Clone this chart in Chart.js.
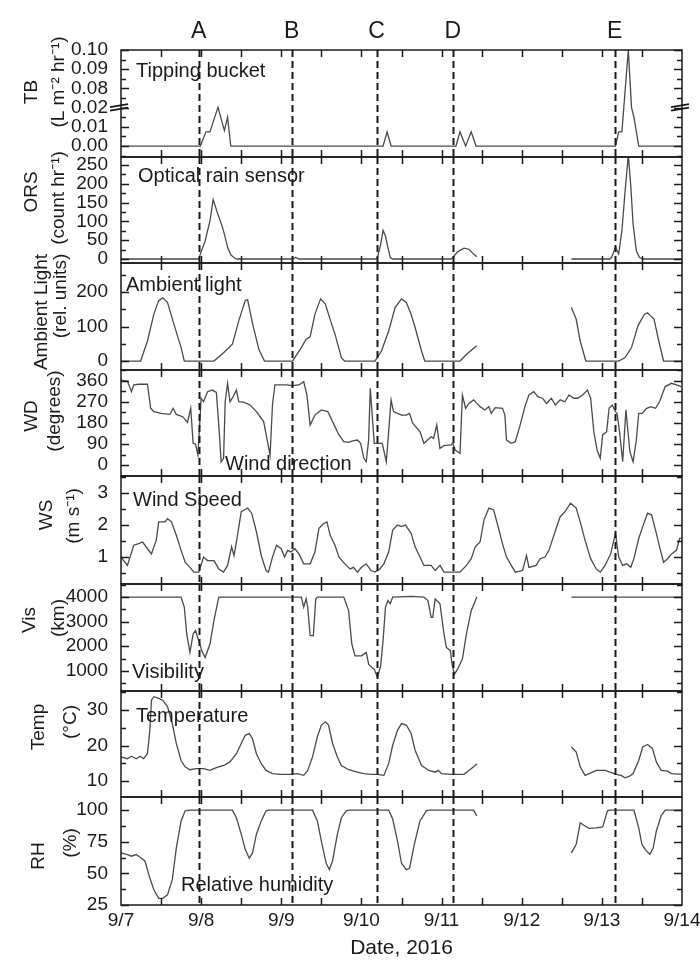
<!DOCTYPE html>
<html>
<head>
<meta charset="utf-8">
<script src="https://cdn.jsdelivr.net/npm/chart.js@4"></script>
<style>
  html, body { margin: 0; padding: 0; background: #fff; }
  #wrap { position: relative; width: 700px; height: 965px; }
  #wrap canvas { position: absolute; left: 0; top: 0; }
</style>
</head>
<body>
<div id="wrap"></div>
<script>
// x values are days after 9/7 00:00
const dayLabels = ['9/7', '9/8', '9/9', '9/10', '9/11', '9/12', '9/13', '9/14'];
const eventNames = ['A', 'B', 'C', 'D', 'E'];
const eventDays = [0.97, 2.13, 3.19, 4.14, 6.16];

// TB (L m-2 hr-1), axis broken between 0.02 and 0.08
const tbData = [[0,0],[0.99,0],[1.06,0.0074],[1.11,0.0074],[1.21,0.0215],[1.29,0.008],[1.33,0.015],[1.37,0],
  [3.27,0],[3.32,0.0074],[3.37,0],[4.18,0],[4.23,0.0074],[4.30,0],[4.37,0.0074],[4.43,0],
  [6.17,0],[6.21,0.0074],[6.25,0.0074],[6.33,0.10],[6.37,0.021],[6.40,0.015],[6.46,0],[7,0]];

const orsData = [[0,0],[0.97,0],[0.99,13],[1.05,48],[1.11,101],[1.15,158],[1.21,118],[1.26,88],[1.29,66],[1.33,31],
  [1.37,11],[1.42,2],[1.45,0],[2.14,0],[2.18,4],[2.22,0],[3.18,0],[3.20,4],[3.24,39],[3.27,76],[3.30,61],[3.33,31],
  [3.36,4],[3.39,0],[4.12,0],[4.14,4],[4.20,19],[4.28,29],[4.34,26],[4.40,13],[4.44,6],[5.0,null],
  [5.62,0],[6.10,0],[6.12,4],[6.17,31],[6.21,13],[6.25,75],[6.29,180],[6.33,276],[6.36,197],[6.39,92],
  [6.43,22],[6.47,4],[6.51,0],[7,0]];

const lightData = [[0,0],[0.245,0],[0.33,58],[0.41,136],[0.47,175],[0.52,183],[0.58,170],[0.66,107],[0.75,39],[0.79,0],
  [1.16,0],[1.28,24],[1.39,49],[1.47,117],[1.55,175],[1.58,178],[1.64,110],[1.72,34],[1.79,0],
  [2.14,0],[2.25,39],[2.31,63],[2.36,70],[2.42,136],[2.49,180],[2.55,165],[2.61,120],[2.67,78],[2.75,10],[2.79,0],
  [3.17,0],[3.25,29],[3.34,87],[3.42,155],[3.50,180],[3.56,170],[3.62,135],[3.67,97],[3.75,29],[3.79,0],
  [4.23,0],[4.31,19],[4.40,37],[4.44,44],[5.0,null],
  [5.62,155],[5.68,121],[5.73,58],[5.80,0],[6.21,0],[6.29,10],[6.37,39],[6.45,102],[6.53,135],[6.57,140],
  [6.62,128],[6.65,122],[6.71,58],[6.77,0],[7,0]];

const wdData = [[0,364],[0.08,360],[0.13,314],[0.16,343],[0.22,346],[0.33,346],[0.37,243],[0.41,229],[0.50,221],
  [0.61,217],[0.65,243],[0.69,217],[0.77,207],[0.83,183],[0.87,243],[0.90,93],[0.93,89],[0.96,43],[1.0,286],
  [1.03,271],[1.08,314],[1.14,321],[1.19,311],[1.22,171],[1.25,14],[1.28,29],[1.30,271],[1.33,350],[1.36,271],
  [1.40,293],[1.44,321],[1.47,271],[1.53,269],[1.61,257],[1.69,229],[1.78,186],[1.82,114],[1.86,43],[1.89,257],
  [1.92,343],[2.06,343],[2.14,340],[2.22,343],[2.28,357],[2.32,300],[2.36,171],[2.42,214],[2.50,236],[2.58,229],
  [2.64,186],[2.72,129],[2.78,100],[2.84,97],[2.89,103],[2.95,107],[2.99,93],[3.03,29],[3.06,14],[3.09,107],
  [3.11,329],[3.16,93],[3.20,93],[3.26,93],[3.31,14],[3.34,143],[3.37,279],[3.40,229],[3.45,221],[3.50,214],
  [3.56,214],[3.60,221],[3.64,179],[3.73,143],[3.78,93],[3.87,121],[3.90,114],[3.94,171],[3.98,71],[4.03,83],
  [4.12,86],[4.14,93],[4.17,64],[4.23,50],[4.26,300],[4.30,243],[4.34,264],[4.40,279],[4.44,264],[4.48,250],
  [4.54,236],[4.59,250],[4.62,221],[4.67,246],[4.76,243],[4.79,214],[4.81,107],[4.87,93],[4.92,100],[4.98,171],
  [5.04,250],[5.09,300],[5.15,314],[5.20,293],[5.26,286],[5.31,264],[5.37,286],[5.42,257],[5.48,279],[5.54,271],
  [5.59,300],[5.65,286],[5.70,286],[5.76,300],[5.82,321],[5.86,286],[5.90,143],[5.94,64],[5.98,29],[6.01,129],
  [6.06,143],[6.09,243],[6.13,257],[6.17,229],[6.19,221],[6.22,143],[6.26,14],[6.30,236],[6.35,57],[6.39,14],
  [6.43,107],[6.46,221],[6.50,221],[6.56,243],[6.61,250],[6.67,243],[6.72,271],[6.79,336],[6.87,350],[6.93,343],[6.99,336]];

const wsData = [[0,1.0],[0.08,0.74],[0.16,1.37],[0.22,1.42],[0.27,1.47],[0.33,1.26],[0.38,1.1],[0.44,1.53],[0.47,2.1],
  [0.55,2.1],[0.58,2.2],[0.63,2.1],[0.69,1.68],[0.75,1.21],[0.80,0.84],[0.86,0.68],[0.91,0.53],[0.97,0.53],[1.03,1.0],
  [1.08,0.89],[1.16,0.89],[1.22,0.63],[1.28,0.53],[1.33,0.74],[1.38,1.32],[1.41,1.05],[1.44,1.47],[1.50,2.42],
  [1.58,2.53],[1.63,2.37],[1.69,1.79],[1.75,1.05],[1.81,0.58],[1.84,0.53],[1.89,1.0],[1.94,1.37],[2.0,1.26],
  [2.04,1.0],[2.08,1.21],[2.12,1.16],[2.17,1.26],[2.22,1.1],[2.28,0.79],[2.36,0.79],[2.42,1.16],[2.47,1.9],
  [2.53,2.05],[2.57,2.1],[2.61,1.68],[2.67,1.37],[2.72,1.0],[2.81,0.74],[2.86,0.63],[2.90,0.68],[2.95,0.53],
  [3.0,0.68],[3.06,0.79],[3.12,0.58],[3.17,0.53],[3.23,0.63],[3.28,0.79],[3.34,1.16],[3.39,1.84],[3.45,2.0],
  [3.50,1.95],[3.55,2.0],[3.62,1.74],[3.67,1.32],[3.73,1.0],[3.78,0.74],[3.87,0.74],[3.92,0.58],[3.98,0.74],
  [4.03,0.53],[4.14,0.53],[4.23,0.53],[4.31,0.74],[4.37,0.95],[4.42,1.32],[4.48,1.47],[4.53,2.16],[4.59,2.53],
  [4.65,2.47],[4.70,2.0],[4.76,1.42],[4.81,1.0],[4.87,0.74],[4.92,0.53],[5.01,0.58],[5.06,1.05],[5.09,0.68],
  [5.18,0.74],[5.23,0.95],[5.29,1.0],[5.34,1.21],[5.43,1.9],[5.48,2.26],[5.54,2.42],[5.61,2.68],[5.68,2.53],
  [5.73,2.1],[5.79,1.53],[5.86,0.95],[5.93,0.63],[5.98,0.53],[6.04,0.74],[6.11,1.1],[6.17,1.74],[6.21,1.0],
  [6.26,0.74],[6.31,0.79],[6.36,0.68],[6.40,0.95],[6.46,1.58],[6.51,1.95],[6.57,2.37],[6.62,2.32],[6.68,1.74],
  [6.72,1.32],[6.77,0.84],[6.82,0.95],[6.87,1.1],[6.93,1.21],[6.97,1.58],[7,1.6]];

const visData = [[0,4000],[0.75,4000],[0.79,3590],[0.82,2500],[0.86,1750],[0.90,2500],[0.93,2640],[0.97,2230],
  [1.01,1800],[1.05,1540],[1.11,2090],[1.16,3050],[1.22,4000],[2.25,4000],[2.28,3590],[2.31,3930],[2.33,3590],
  [2.36,2430],[2.40,2430],[2.43,3930],[2.45,4000],[2.78,4000],[2.84,3450],[2.88,2090],[2.92,1610],[3.0,1610],
  [3.06,1750],[3.09,1270],[3.13,1130],[3.16,1070],[3.20,730],[3.24,1200],[3.27,2230],[3.30,3590],[3.33,3860],
  [3.36,3730],[3.39,4000],[3.62,4030],[3.78,4000],[3.83,3860],[3.87,3180],[3.89,3180],[3.92,3930],[3.98,3730],
  [4.03,2500],[4.06,1950],[4.11,1820],[4.13,1270],[4.16,860],[4.20,1070],[4.26,1480],[4.31,2500],[4.37,3450],
  [4.44,4000],[5.0,null],[5.62,4000],[7,4000]];

const tempData = [[0,16.8],[0.08,16.3],[0.13,17.0],[0.19,16.3],[0.24,17.0],[0.28,16.3],[0.33,17.7],[0.36,24.3],
  [0.38,32.8],[0.41,33.8],[0.47,33.3],[0.52,32.8],[0.58,31.0],[0.64,26.2],[0.69,20.6],[0.75,15.8],[0.80,14.0],
  [0.86,13.2],[0.94,13.5],[1.03,13.5],[1.11,13.0],[1.19,13.8],[1.28,14.4],[1.36,15.4],[1.44,17.7],[1.50,20.6],
  [1.55,22.9],[1.60,23.4],[1.64,22.0],[1.69,17.7],[1.75,14.9],[1.81,13.0],[1.89,12.1],[2.0,11.9],[2.11,11.9],
  [2.20,12.1],[2.28,11.6],[2.33,13.0],[2.39,16.8],[2.45,22.5],[2.50,25.8],[2.55,26.7],[2.59,25.8],[2.64,20.6],
  [2.70,16.8],[2.75,14.4],[2.84,13.2],[2.95,12.5],[3.03,12.1],[3.12,11.9],[3.20,11.9],[3.28,11.6],[3.34,14.9],
  [3.39,20.1],[3.45,24.3],[3.50,26.2],[3.56,25.8],[3.62,23.4],[3.67,18.7],[3.75,14.4],[3.84,13.0],[3.92,12.5],
  [3.96,13.0],[4.0,12.1],[4.12,11.9],[4.28,11.9],[4.34,13.0],[4.40,14.0],[4.44,14.9],[5.0,null],
  [5.62,19.6],[5.68,18.2],[5.73,14.0],[5.79,11.6],[5.84,12.1],[5.93,13.0],[6.04,13.0],[6.10,12.5],[6.18,11.9],
  [6.24,11.6],[6.29,10.9],[6.34,11.3],[6.39,12.1],[6.46,15.8],[6.51,19.6],[6.57,20.3],[6.63,19.2],[6.68,15.4],
  [6.74,13.0],[6.82,12.8],[6.87,12.1],[7,11.9]];

const rhData = [[0,66.2],[0.08,64.9],[0.13,63.6],[0.19,64.9],[0.25,62.2],[0.30,59.6],[0.36,46.3],[0.41,37],
  [0.47,30.3],[0.52,30.3],[0.58,33],[0.64,45],[0.69,70],[0.75,91.5],[0.80,99.5],[0.86,100],[1.39,100],[1.44,94],
  [1.50,81],[1.55,69],[1.60,62],[1.64,66],[1.69,81],[1.75,91.5],[1.81,99.5],[1.84,100],[2.39,100],[2.45,91.5],
  [2.50,75.5],[2.56,58],[2.60,53],[2.64,60],[2.70,81],[2.75,94],[2.81,99.5],[2.84,100],[3.34,100],[3.39,93],
  [3.45,75.5],[3.50,58],[3.56,53],[3.60,54],[3.66,73],[3.73,91.5],[3.81,99.5],[3.84,100],[4.40,100],[4.44,95.5],
  [5.0,null],[5.62,66.2],[5.68,73],[5.73,90],[5.79,87.5],[5.84,85.6],[5.93,86],[6.01,86.7],[6.07,99.5],[6.10,100],
  [6.40,100],[6.46,86],[6.50,73],[6.54,69],[6.60,65],[6.64,70],[6.68,83.5],[6.74,95.5],[6.79,100],[7,100]];

const FONT = '"Liberation Sans", Arial, sans-serif';
const INK = '#1a1a1a';
const LINE = '#4a4a4a';
const PLOT_LEFT = 121, PLOT_RIGHT = 682, PAGE_H = 965;

// broken TB axis: 0..0.02 kept, 0.08..0.10 drawn right above 0.02
function tbBreak(v) {
  if (v == null) return null;
  if (v <= 0.02) return v;
  if (v >= 0.08) return v - 0.05;
  return 0.02 + (v - 0.02) / 0.06 * 0.01;
}
const tbTickText = ['0.00', '0.01', '0.02', '0.08', '0.09', '0.10'];

// t: [line1, line2], tx/ty: centre of each rotated title line
const panels = [
  { data: tbData, map: tbBreak, top: 50, bottom: 157, min: -0.0057, max: 0.05, step: 0.01, minor: 0.005,
    t: ['TB', '(L m\u207B\u00B2 hr\u207B\u00B9)'], tx: [32, 59], ty: [92, 82],
    label: 'Tipping bucket', lx: 136, ly: 71,
    tick: v => tbTickText[Math.round(v * 100)] ?? '' },
  { data: orsData, top: 157, bottom: 263, min: -10.6, max: 271, step: 50, minor: 25,
    t: ['ORS', '(count hr\u207B\u00B9)'], tx: [32, 59], ty: [192, 198],
    label: 'Optical rain sensor', lx: 138, ly: 176 },
  { data: lightData, top: 263, bottom: 370, min: -26, max: 284, step: 100, minor: 50,
    t: ['Ambient Light', '(rel. units)'], tx: [42, 61], ty: [312, 296],
    label: 'Ambient light', lx: 126, ly: 285 },
  { data: wdData, top: 370, bottom: 476, min: -47, max: 407, step: 90, minor: 45,
    t: ['WD', '(degrees)'], tx: [32, 55], ty: [416, 411],
    label: 'Wind direction', lx: 225, ly: 464 },
  { data: wsData, top: 476, bottom: 584, min: 0.16, max: 3.53, step: 1, minor: 0.5,
    t: ['WS', '(m s\u207B\u00B9)'], tx: [47, 74], ty: [515, 516],
    label: 'Wind Speed', lx: 133, ly: 500 },
  { data: visData, top: 584, bottom: 691, min: 178, max: 4534, step: 1000, minor: 500,
    t: ['Vis', '(km)'], tx: [30, 59], ty: [620, 618],
    label: 'Visibility', lx: 132, ly: 672 },
  { data: tempData, top: 691, bottom: 797, min: 5.5, max: 35.4, step: 10, minor: 5,
    t: ['Temp', '(\u00B0C)'], tx: [39, 71], ty: [727, 722],
    label: 'Temperature', lx: 136, ly: 716 },
  { data: rhData, top: 797, bottom: 905, min: 25, max: 110.4, step: 25, minor: 12.5,
    t: ['RH', '(%)'], tx: [39, 71], ty: [856, 843],
    label: 'Relative humidity', lx: 181, ly: 885 }
];

function seg(ctx, x1, y1, x2, y2) {
  ctx.beginPath(); ctx.moveTo(x1, y1); ctx.lineTo(x2, y2); ctx.stroke();
}

function framePlugin(p, idx) {
  return {
    id: 'frame' + idx,
    afterDatasetsDraw(chart) {
      const { ctx, chartArea: a } = chart;
      const x = chart.scales.x, y = chart.scales.y;
      ctx.save();
      ctx.strokeStyle = INK;

      // dashed event lines
      ctx.lineWidth = 2;
      ctx.setLineDash([7, 4]);
      eventDays.forEach(d => {
        const px = Math.round(x.getPixelForValue(d)) + 0.5;
        seg(ctx, px, a.top, px, a.bottom);
      });
      ctx.setLineDash([]);

      // box
      ctx.lineWidth = 1.5;
      ctx.strokeRect(a.left, a.top, a.right - a.left, a.bottom - a.top);

      // x ticks, top and bottom, every half day
      for (let d = 0.5; d < 7; d += 0.5) {
        const px = Math.round(x.getPixelForValue(d)) + 0.5;
        seg(ctx, px, a.top, px, a.top + 7);
        seg(ctx, px, a.bottom, px, a.bottom - 7);
      }

      // y ticks, both sides
      const first = Math.ceil(p.min / p.minor - 1e-9) * p.minor;
      for (let v = first; v <= p.max + 1e-9; v += p.minor) {
        const r = v / p.step;
        const major = Math.abs(r - Math.round(r)) < 1e-6;
        const len = major ? 8 : 5;
        const py = Math.round(y.getPixelForValue(v)) + 0.5;
        seg(ctx, a.left, py, a.left + len, py);
        seg(ctx, a.right, py, a.right - len, py);
      }

      // axis break marks on the TB panel
      if (p.map) {
        const py = y.getPixelForValue(0.02);
        ctx.lineWidth = 2;
        [a.left, a.right].forEach(ax => {
          seg(ctx, ax - 11, py - 0.5, ax + 7, py - 3.5);
          seg(ctx, ax - 11, py + 3, ax + 7, py);
        });
      }

      ctx.fillStyle = INK;
      ctx.textBaseline = 'middle';

      // rotated two-line axis title
      ctx.font = '19px ' + FONT;
      ctx.textAlign = 'center';
      p.t.forEach((line, i) => {
        ctx.save();
        ctx.translate(p.tx[i], p.ty[i]);
        ctx.rotate(-Math.PI / 2);
        ctx.fillText(line, 0, 0);
        ctx.restore();
      });

      // panel name
      ctx.font = '20px ' + FONT;
      ctx.textAlign = 'left';
      ctx.fillText(p.label, p.lx, p.ly);

      // event letters above the first panel
      if (idx === 0) {
        ctx.font = '23px ' + FONT;
        ctx.textAlign = 'center';
        eventDays.forEach((d, i) => {
          ctx.fillText(eventNames[i], x.getPixelForValue(d), 32);
        });
      }
      ctx.restore();
    }
  };
}

const wrap = document.getElementById('wrap');
panels.forEach((p, idx) => {
  const last = idx === panels.length - 1;
  const canvas = document.createElement('canvas');
  canvas.width = 700;
  canvas.height = PAGE_H;
  wrap.appendChild(canvas);

  const points = p.data.map(([d, v]) => ({ x: d, y: p.map ? p.map(v) : v }));

  new Chart(canvas, {
    type: 'line',
    data: {
      datasets: [{
        data: points,
        borderColor: LINE,
        borderWidth: 1.3,
        pointRadius: 0,
        tension: 0,
        spanGaps: false,
        fill: false
      }]
    },
    options: {
      responsive: false,
      animation: false,
      devicePixelRatio: 1,
      events: [],
      layout: {
        padding: { left: 0, right: 700 - PLOT_RIGHT, top: p.top, bottom: last ? 0 : PAGE_H - p.bottom }
      },
      plugins: { legend: { display: false }, tooltip: { enabled: false } },
      scales: {
        x: {
          type: 'linear',
          min: 0,
          max: 7,
          display: last,
          afterFit: s => {
            s.height = last ? PAGE_H - p.bottom : 0;
            s.paddingLeft = 0;
            s.paddingRight = 0;
          },
          grid: { display: false, drawTicks: false },
          border: { display: false },
          ticks: {
            stepSize: 1,
            autoSkip: false,
            maxRotation: 0,
            padding: 4,
            color: INK,
            font: { size: 19, family: FONT },
            callback: v => Number.isInteger(v) ? dayLabels[v] : ''
          },
          title: {
            display: true,
            text: 'Date, 2016',
            color: INK,
            font: { size: 21, family: FONT },
            padding: { top: 0, bottom: 4 }
          }
        },
        y: {
          min: p.min,
          max: p.max,
          afterBuildTicks: s => {
            const list = [];
            for (let k = Math.ceil(p.min / p.step - 1e-9); k * p.step <= p.max + 1e-9; k++) {
              list.push({ value: +(k * p.step).toFixed(6) });
            }
            s.ticks = list;
          },
          afterFit: s => { s.width = PLOT_LEFT; s.paddingTop = 0; s.paddingBottom = 0; },
          grid: { display: false, drawTicks: false },
          border: { display: false },
          ticks: {
            autoSkip: false,
            padding: 13,
            color: INK,
            font: { size: 19, family: FONT },
            callback: p.tick || (v => String(v))
          },
          title: { display: false }
        }
      }
    },
    plugins: [framePlugin(p, idx)]
  });
});
</script>
</body>
</html>
